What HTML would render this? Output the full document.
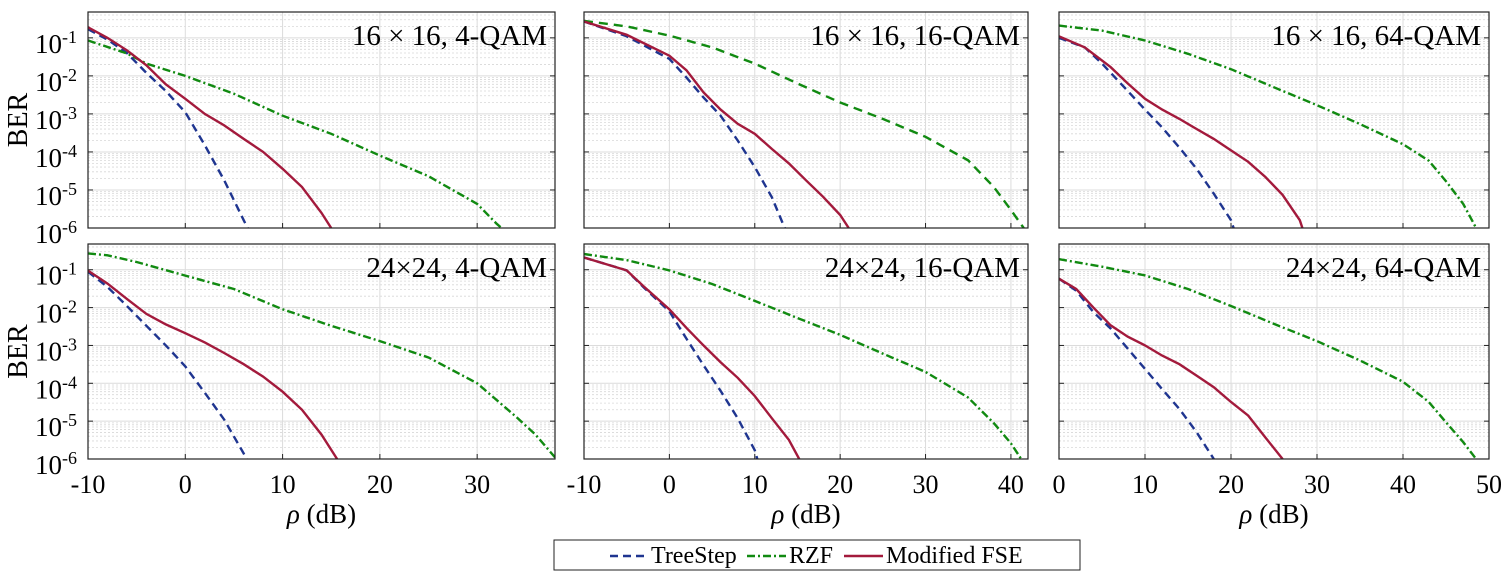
<!DOCTYPE html>
<html><head><meta charset="utf-8"><style>
html,body{margin:0;padding:0;background:#fff;}
svg{display:block;}
svg text{font-family:"Liberation Serif","Times New Roman",serif;}
</style></head><body>
<svg id="fig" width="1506" height="575" viewBox="0 0 1506 575" xmlns="http://www.w3.org/2000/svg" font-family="Liberation Serif, serif">
<rect x="0" y="0" width="1506" height="575" fill="#fff"/>
<g id="legend">
<rect x="554" y="540" width="526" height="30" fill="#fff" stroke="#222" stroke-width="1"/>
<g><line x1="610" y1="556" x2="649" y2="556" stroke="#1f3590" stroke-width="2.4" stroke-dasharray="8,5"/><text x="651" y="563" font-size="24" font-family="Liberation Serif, serif">TreeStep</text></g>
<g><line x1="747" y1="556" x2="786" y2="556" stroke="#118a11" stroke-width="2.4" stroke-dasharray="8,3,2,3"/><text x="789" y="563" font-size="24" font-family="Liberation Serif, serif">RZF</text></g>
<g><line x1="844" y1="556" x2="883" y2="556" stroke="#a31a3c" stroke-width="2.4"/><text x="886" y="563" font-size="24" font-family="Liberation Serif, serif">Modified FSE</text></g>
</g>
</svg>
<script>
// Panel 1: 16x16, 4-QAM
const p1TsX=[-10,-8,-6,-4,-2,0,2,4,6,6.4];
const p1TsY=[0.17,0.09,0.04,0.012,4e-3,1.1e-3,1.5e-4,1.8e-5,1.6e-6,1e-6];
const p1RzfX=[-10,-6,-4,0,5,10,15,20,25,30,32,32.5];
const p1RzfY=[0.085,0.039,0.021,0.01,3.4e-3,9e-4,3e-4,8e-5,2.3e-5,4.3e-6,1.3e-6,1e-6];
const p1FseX=[-10,-8,-6,-4,-2,0,2,4,6,8,10,12,14,15];
const p1FseY=[0.19,0.1,0.047,0.019,6e-3,2.5e-3,1e-3,5e-4,2.2e-4,1e-4,3.6e-5,1.2e-5,2.5e-6,1e-6];
// Panel 2: 16x16, 16-QAM
const p2TsX=[-10,-5,0,2,4,6,8,10,12,13.5];
const p2TsY=[0.27,0.11,0.028,9e-3,2.7e-3,9e-4,2e-4,4e-5,6.5e-6,1e-6];
const p2RzfX=[-10,-5,0,5,10,15,20,25,30,35,38,40,41.5];
const p2RzfY=[0.28,0.2,0.115,0.056,0.021,6.3e-3,2e-3,7.4e-4,2.5e-4,6e-5,1.2e-5,3e-6,1e-6];
const p2FseX=[-10,-5,0,2,4,6,8,10,12,14,16,18,20,21];
const p2FseY=[0.27,0.12,0.034,0.014,3.7e-3,1.3e-3,5.5e-4,3e-4,1.2e-4,5e-5,1.8e-5,6.6e-6,2.2e-6,1e-6];
// Panel 3: 16x16, 64-QAM
const p3TsX=[0,3,5,8,10,12,14,16,18,20,20.3];
const p3TsY=[0.1,0.056,0.021,4e-3,1.3e-3,4.4e-4,1.3e-4,3.6e-5,8e-6,1.6e-6,1e-6];
const p3RzfX=[0,5,10,15,20,25,30,35,40,43,45,47,48.5];
const p3RzfY=[0.21,0.155,0.085,0.038,0.015,5e-3,1.7e-3,5.4e-4,1.6e-4,5.9e-5,1.7e-5,4.3e-6,1e-6];
const p3FseX=[0,3,6,8,10,12,14,16,18,20,22,24,26,28,28.3];
const p3FseY=[0.11,0.056,0.017,6.3e-3,2.5e-3,1.3e-3,7.4e-4,4e-4,2.2e-4,1.1e-4,5.5e-5,2.2e-5,7.4e-6,1.6e-6,1e-6];
// Panel 4: 24x24, 4-QAM
const p4TsX=[-10,-8,-6,-4,-2,0,2,4,6,6.3];
const p4TsY=[0.089,0.035,0.011,3.3e-3,1e-3,2.8e-4,5.6e-5,1.1e-5,1.4e-6,1e-6];
const p4RzfX=[-10,-8,-5,0,5,10,15,20,25,30,34,36,38];
const p4RzfY=[0.27,0.24,0.16,0.07,0.031,9e-3,3.3e-3,1.3e-3,4.8e-4,1e-4,1.3e-5,4.4e-6,1.1e-6];
const p4FseX=[-10,-8,-6,-4,-2,0,2,4,6,8,10,12,14,15.6];
const p4FseY=[0.095,0.043,0.017,6.8e-3,3.6e-3,2.1e-3,1.2e-3,6.3e-4,3.2e-4,1.5e-4,6e-5,2e-5,4.4e-6,1e-6];
// Panel 5: 24x24, 16-QAM
const p5TsX=[-10,-5,-3,0,2,4,6,8,10,10.3];
const p5TsY=[0.21,0.096,0.034,8e-3,1.5e-3,3e-4,6.3e-5,1.2e-5,1.7e-6,1e-6];
const p5RzfX=[-10,-5,0,5,10,15,20,25,30,35,38,40,41.2];
const p5RzfY=[0.26,0.18,0.096,0.042,0.015,5.3e-3,1.9e-3,6.1e-4,2e-4,4.2e-5,8.9e-6,2.6e-6,1e-6];
const p5FseX=[-10,-5,-3,0,2,4,6,8,10,12,14,15.2];
const p5FseY=[0.21,0.096,0.036,9e-3,2.9e-3,1e-3,3.6e-4,1.4e-4,4.6e-5,1.2e-5,3.2e-6,1e-6];
// Panel 6: 24x24, 64-QAM
const p6TsX=[0,2,4,6,8,10,12,14,16,18];
const p6TsY=[0.058,0.028,7.6e-3,2.8e-3,8.2e-4,2.4e-4,7e-5,2.1e-5,5.1e-6,1e-6];
const p6RzfX=[0,5,10,15,20,25,30,35,40,43,45,47,48.5];
const p6RzfY=[0.19,0.12,0.071,0.031,0.011,3.7e-3,1.3e-3,4e-4,1.1e-4,3.2e-5,9.3e-6,2.8e-6,1e-6];
const p6FseX=[0,2,4,6,8,10,12,14,16,18,20,22,24,26];
const p6FseY=[0.058,0.031,0.01,3.4e-3,1.7e-3,1e-3,5.4e-4,3.2e-4,1.6e-4,7.9e-5,3.2e-5,1.4e-5,3.7e-6,1e-6];

const titles=["16 \u00d7 16, 4-QAM","16 \u00d7 16, 16-QAM","16 \u00d7 16, 64-QAM","24\u00d724, 4-QAM","24\u00d724, 16-QAM","24\u00d724, 64-QAM"];
const xTicksA=[-10,0,10,20,30];
const xTicksB=[-10,0,10,20,30,40];
const xTicksC=[0,10,20,30,40,50];
const yTickExps=[-1,-2,-3,-4,-5,-6];

const NS="http://www.w3.org/2000/svg";
const FF="Liberation Serif, serif";
const svg=document.getElementById('fig');
const legend=document.getElementById('legend');
function mk(tag,attrs,parent){const e=document.createElementNS(NS,tag);for(const k in attrs)e.setAttribute(k,attrs[k]);if(tag==='text')e.setAttribute('font-family',FF);(parent||svg).appendChild(e);return e;}

const cols=[{l:88,r:555,xmin:-10,xmax:38,ticks:xTicksA},{l:584,r:1028,xmin:-10,xmax:42,ticks:xTicksB},{l:1059,r:1489,xmin:0,xmax:50,ticks:xTicksC}];
const rows=[{t:12,b:228},{t:244,b:459}];
const LMIN=-6,LMAX=-0.32;
const series=[
 [[p1TsX,p1TsY],[p1RzfX,p1RzfY],[p1FseX,p1FseY]],
 [[p2TsX,p2TsY],[p2RzfX,p2RzfY],[p2FseX,p2FseY]],
 [[p3TsX,p3TsY],[p3RzfX,p3RzfY],[p3FseX,p3FseY]],
 [[p4TsX,p4TsY],[p4RzfX,p4RzfY],[p4FseX,p4FseY]],
 [[p5TsX,p5TsY],[p5RzfX,p5RzfY],[p5FseX,p5FseY]],
 [[p6TsX,p6TsY],[p6RzfX,p6RzfY],[p6FseX,p6FseY]]
];
const sNames=['treestep','rzf','modified-fse'];
const sColors=['#1f3590','#118a11','#a31a3c'];

for(let i=0;i<6;i++){
 const c=cols[i%3],rw=rows[Math.floor(i/3)];
 const xs=v=>c.l+(v-c.xmin)/(c.xmax-c.xmin)*(c.r-c.l);
 const ys=v=>rw.b-(Math.log10(v)-LMIN)/(LMAX-LMIN)*(rw.b-rw.t);
 const g=mk('g',{});
 
 
 svg.insertBefore(g,legend);
 const cp=mk('clipPath',{id:'cp'+i},g);
 mk('rect',{x:c.l,y:rw.t,width:c.r-c.l,height:rw.b-rw.t},cp);
 const grid=mk('g',{},g);
 
 
 for(let d=-6;d<0;d++){for(let m=2;m<=9;m++){const v=m*Math.pow(10,d);const y=ys(v);if(y<rw.t)continue;
  const ln=mk('line',{x1:c.l,x2:c.r,y1:y,y2:y,stroke:'#d8d8d8','stroke-width':0.8,'stroke-dasharray':'2,2'},grid);
  
  }}
 for(const e of yTickExps){const y=ys(Math.pow(10,e));
  const ln=mk('line',{x1:c.l,x2:c.r,y1:y,y2:y,stroke:'#dcdcdc','stroke-width':1},grid);
  
  
  mk('line',{x1:c.l,x2:c.l+5,y1:y,y2:y,stroke:'#222','stroke-width':1},grid);
  mk('line',{x1:c.r,x2:c.r-5,y1:y,y2:y,stroke:'#222','stroke-width':1},grid);}
 for(const t of c.ticks){const x=xs(t);
  const ln=mk('line',{x1:x,x2:x,y1:rw.t,y2:rw.b,stroke:'#dcdcdc','stroke-width':1},grid);
  
  
  mk('line',{x1:x,x2:x,y1:rw.b,y2:rw.b-5,stroke:'#222','stroke-width':1},grid);}
 for(let s=0;s<3;s++){const [X,Y]=series[i][s];
  const d=X.map((xv,k)=>(k?'L':'M')+xs(xv).toFixed(1)+','+ys(Y[k]).toFixed(1)).join(' ');
  let dash=s===0?'8,5':(s===1?(i===1?'9,6':'8,3,2,3'):'none');
  const p=mk('path',{d:d,fill:'none',stroke:sColors[s],'stroke-width':2.4,'stroke-dasharray':dash,'clip-path':'url(#cp'+i+')'},g);
  
  }
 const box=mk('rect',{x:c.l,y:rw.t,width:c.r-c.l,height:rw.b-rw.t,fill:'none',stroke:'#222','stroke-width':1.2},g);
 
 
 const tt=mk('text',{x:c.r-8,y:rw.t+33,'font-size':29,'text-anchor':'end'},g);
 tt.textContent=titles[i];
 
 
 if(i%3===0){
  for(const e of yTickExps){const y=ys(Math.pow(10,e));
   const tx=mk('text',{x:c.l-26,y:y+15,'font-size':27,'text-anchor':'end'},g);
   tx.textContent='10';
   
   
   const sp=mk('text',{x:c.l-26,y:y+5,'font-size':18,'text-anchor':'start'},g);
   sp.textContent=String(e);
   
   }
  const yl=mk('text',{x:0,y:0,'font-size':28,'text-anchor':'middle',transform:'translate(27,'+((rw.t+rw.b)/2)+') rotate(-90)'},g);
  yl.textContent='BER';
  
  
 }
 if(i>=3){
  for(const t of c.ticks){
   const tx=mk('text',{x:xs(t),y:rw.b+34,'font-size':26,'text-anchor':'middle'},g);
   tx.textContent=String(t);
   
   }
  const xl=mk('text',{x:(c.l+c.r)/2,y:rw.b+64,'font-size':27,'text-anchor':'middle'},g);
  const r1=document.createElementNS(NS,'tspan');r1.setAttribute('font-style','italic');r1.textContent='\u03c1';xl.appendChild(r1);
  xl.appendChild(document.createTextNode(' (dB)'));
  
  
 }
}
</script>
</body></html>
